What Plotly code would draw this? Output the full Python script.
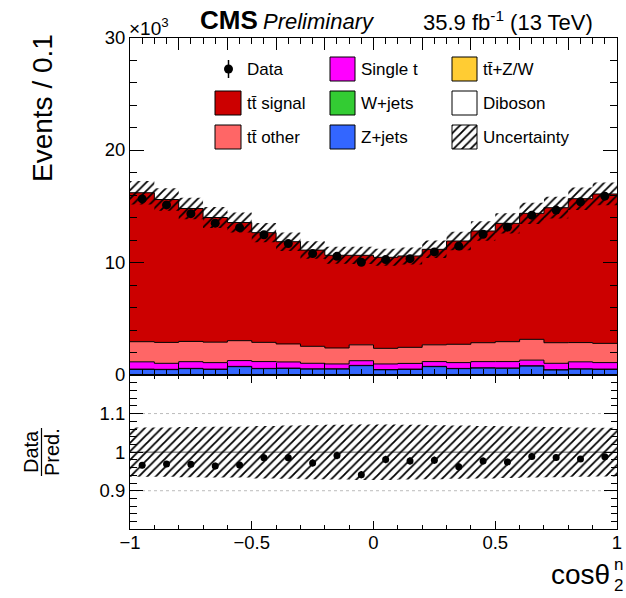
import numpy as np
import plotly.graph_objects as go

# ---------------- binning ----------------
bin_edges = np.linspace(-1.0, 1.0, 21)
bin_centers = 0.5 * (bin_edges[:-1] + bin_edges[1:])

# ---------------- observed events ----------------
data_events = [15650, 15120, 14340, 13500, 13100, 12470, 11680, 10790, 10550, 10020,
               10260, 10340, 10940, 11460, 12510, 13140, 14210, 14660, 15390, 15900]

# ---------------- simulated processes (events / bin) ----------------
diboson = [11, 10, 12, 10, 11, 12, 10, 11, 12, 10, 11, 10, 12, 11, 10, 12, 11, 10, 11, 12]
ttbar_v = [35, 34, 36, 35, 35, 36, 34, 35, 35, 36, 35, 34, 35, 36, 35, 35, 34, 35, 36, 35]
z_jets = [455, 435, 515, 455, 695, 515, 545, 485, 485, 785,
          415, 455, 695, 515, 575, 555, 755, 405, 485, 455]
w_jets = [25, 24, 26, 25, 25, 24, 26, 25, 25, 24, 25, 26, 25, 24, 25, 25, 26, 25, 24, 25]
single_t = [645, 535, 595, 575, 515, 605, 545, 485, 425, 415,
            495, 505, 425, 515, 545, 565, 495, 565, 615, 575]
tt_other = [1790, 1860, 1800, 1820, 1770, 1710, 1600, 1510, 1420, 1410,
            1390, 1430, 1490, 1630, 1680, 1770, 1850, 1830, 1710, 1710]
tt_signal = [13240, 12700, 11820, 11080, 10500, 9750, 9090, 8550, 8240, 7960,
             8090, 8120, 8490, 9180, 9930, 10520, 11200, 12000, 12790, 13280]

# relative uncertainty of the prediction per bin
rel_unc = [0.064, 0.064, 0.065, 0.066, 0.066, 0.068, 0.069, 0.070, 0.071, 0.072,
           0.072, 0.071, 0.070, 0.069, 0.068, 0.067, 0.066, 0.065, 0.064, 0.063]

# ---------------- tick labels ----------------
y_main_ticks = [0, 10000, 20000, 30000]
y_main_text = ["0", "10", "20", "30"]
y_ratio_ticks = [0.9, 1.0, 1.1]
y_ratio_text = ["0.9", "1", "1.1"]
x_ticks = [-1, -0.5, 0, 0.5, 1]
x_text = ["\u22121", "\u22120.5", "0", "0.5", "1"]

# process stack, bottom to top
stack = [
    ("Diboson", diboson, "#ffffff"),
    ("tt\u0304+Z/W", ttbar_v, "#ffcc33"),
    ("Z+jets", z_jets, "#3366ff"),
    ("W+jets", w_jets, "#33cc33"),
    ("Single t", single_t, "#ff00ff"),
    ("tt\u0304 other", tt_other, "#ff6666"),
    ("tt\u0304 signal", tt_signal, "#cc0000"),
]

FONT = "Liberation Sans, Arial, Helvetica, sans-serif"


def step_y(vals):
    vals = list(vals)
    return vals + [vals[-1]]


fig = go.Figure()

# stacked histograms
cum = np.zeros(len(bin_centers))
for i, (name, vals, color) in enumerate(stack):
    cum = cum + np.asarray(vals, dtype=float)
    fig.add_trace(go.Scatter(
        x=bin_edges, y=step_y(cum), mode="lines", name=name,
        line=dict(shape="hv", color="black", width=1),
        fill="tozeroy" if i == 0 else "tonexty", fillcolor=color,
        xaxis="x", yaxis="y", hoverinfo="skip", showlegend=False))

total = cum
unc = np.asarray(rel_unc)
hatch = dict(shape="/", fgcolor="black", bgcolor="rgba(0,0,0,0)",
             size=6, solidity=0.3, fgopacity=1)

# uncertainty band on the prediction
fig.add_trace(go.Scatter(x=bin_edges, y=step_y(total * (1 - unc)), mode="lines",
                         line=dict(shape="hv", width=0), xaxis="x", yaxis="y",
                         hoverinfo="skip", showlegend=False))
fig.add_trace(go.Scatter(x=bin_edges, y=step_y(total * (1 + unc)), mode="lines",
                         line=dict(shape="hv", width=0), fill="tonexty",
                         fillcolor="rgba(0,0,0,0)", fillpattern=hatch,
                         xaxis="x", yaxis="y", hoverinfo="skip", showlegend=False))

# data points
data_arr = np.asarray(data_events, dtype=float)
fig.add_trace(go.Scatter(
    x=bin_centers, y=data_arr, mode="markers",
    marker=dict(color="black", size=9),
    error_y=dict(type="data", array=np.sqrt(data_arr), thickness=1.5, width=0, color="black"),
    xaxis="x", yaxis="y", hoverinfo="skip", showlegend=False))

# ratio panel
fig.add_trace(go.Scatter(x=bin_edges, y=step_y(1 - unc), mode="lines",
                         line=dict(shape="hv", width=0), xaxis="x2", yaxis="y2",
                         hoverinfo="skip", showlegend=False))
fig.add_trace(go.Scatter(x=bin_edges, y=step_y(1 + unc), mode="lines",
                         line=dict(shape="hv", width=0), fill="tonexty",
                         fillcolor="rgba(0,0,0,0)", fillpattern=hatch,
                         xaxis="x2", yaxis="y2", hoverinfo="skip", showlegend=False))
ratio = data_arr / total
fig.add_trace(go.Scatter(
    x=bin_centers, y=ratio, mode="markers",
    marker=dict(color="black", size=7),
    error_y=dict(type="data", array=np.sqrt(data_arr) / total, thickness=1.5, width=0, color="black"),
    xaxis="x2", yaxis="y2", hoverinfo="skip", showlegend=False))

# ---------------- legend drawn on a pixel-unit overlay axis ----------------
def box(x0, y0, x1, y1, color, pattern=None):
    kw = dict(x=[x0, x1, x1, x0, x0], y=[y0, y0, y1, y1, y0], mode="lines",
              fill="toself", fillcolor=color, line=dict(color="black", width=1),
              xaxis="x3", yaxis="y3", hoverinfo="skip", showlegend=False)
    if pattern is not None:
        kw["fillpattern"] = pattern
    fig.add_trace(go.Scatter(**kw))


legend_cols = [(215, 241), (330, 355), (452, 477)]
legend_rows = [69, 103, 137]
legend_entries = [
    [("Data", None), ("tt\u0304 signal", "#cc0000"), ("tt\u0304 other", "#ff6666")],
    [("Single t", "#ff00ff"), ("W+jets", "#33cc33"), ("Z+jets", "#3366ff")],
    [("tt\u0304+Z/W", "#ffcc33"), ("Diboson", "#ffffff"), ("Uncertainty", "hatch")],
]

annotations = []
for (cx0, cx1), col in zip(legend_cols, legend_entries):
    for yc, (label, color) in zip(legend_rows, col):
        if color is None:
            fig.add_trace(go.Scatter(
                x=[0.5 * (cx0 + cx1) + 0.5], y=[yc], mode="markers",
                marker=dict(color="black", size=9),
                error_y=dict(type="constant", value=9, thickness=1.5, width=0, color="black"),
                xaxis="x3", yaxis="y3", hoverinfo="skip", showlegend=False))
        elif color == "hatch":
            box(cx0, yc - 12, cx1, yc + 12, "rgba(0,0,0,0)",
                dict(shape="/", fgcolor="black", bgcolor="white", size=6, solidity=0.3, fgopacity=1))
        else:
            box(cx0, yc - 12, cx1, yc + 12, color)
        annotations.append(dict(x=cx1 + 4, y=yc, text=label, xref="x3", yref="y3",
                                xanchor="left", yanchor="middle", showarrow=False,
                                font=dict(size=17)))

# header texts and axis titles
annotations += [
    dict(x=198, y=20, text="<b>CMS</b>", xanchor="left", yanchor="middle", font=dict(size=26)),
    dict(x=261, y=21, text="<i>Preliminary</i>", xanchor="left", yanchor="middle", font=dict(size=22)),
    dict(x=595, y=21, text="35.9 fb<sup>-1</sup> (13 TeV)", xanchor="right", yanchor="middle",
         font=dict(size=22)),
    dict(x=127, y=27, text="\u00d710<sup>3</sup>", xanchor="left", yanchor="middle", font=dict(size=19)),
    dict(x=42, y=108, text="Events / 0.1", textangle=-90, xanchor="center", yanchor="middle",
         font=dict(size=28)),
    dict(x=31, y=452, text="Data", textangle=-90, xanchor="center", yanchor="middle",
         font=dict(size=20)),
    dict(x=52, y=452, text="Pred.", textangle=-90, xanchor="center", yanchor="middle",
         font=dict(size=20)),
    dict(x=612, y=574, text="cos\u03b8", xanchor="right", yanchor="middle", font=dict(size=28)),
    dict(x=612, y=564, text="n", xanchor="left", yanchor="middle", font=dict(size=17)),
    dict(x=612, y=585, text="2", xanchor="left", yanchor="middle", font=dict(size=17)),
]
for a in annotations:
    a.setdefault("xref", "x3")
    a.setdefault("yref", "y3")
    a.setdefault("showarrow", False)

shapes = [
    # fraction bar of the ratio title
    dict(type="line", xref="x3", yref="y3", x0=41.5, x1=41.5, y0=428, y1=476,
         line=dict(color="black", width=1.2)),
    dict(type="line", xref="x2 domain", yref="y2", x0=0, x1=1, y0=1.1, y1=1.1,
         line=dict(color="#bbbbbb", width=1, dash="dot"), layer="below"),
    dict(type="line", xref="x2 domain", yref="y2", x0=0, x1=1, y0=0.9, y1=0.9,
         line=dict(color="#bbbbbb", width=1, dash="dot"), layer="below"),
    dict(type="line", xref="x2 domain", yref="y2", x0=0, x1=1, y0=1.0, y1=1.0,
         line=dict(color="#555555", width=1), layer="below"),
]

W, H = 626, 598
x_dom = [130 / W, 617 / W]
y_main_dom = [1 - 375 / H, 1 - 37.5 / H]
y_ratio_dom = [1 - 529.3 / H, 1 - 375 / H]

axis_common = dict(showline=True, linecolor="black", linewidth=1, mirror="ticks",
                   ticks="inside", tickcolor="black", tickwidth=1, showgrid=False,
                   zeroline=False, fixedrange=True, automargin=False,
                   tickfont=dict(size=18.5))

fig.update_layout(
    width=W, height=H, margin=dict(l=0, r=0, t=0, b=0, pad=0, autoexpand=False),
    paper_bgcolor="white", plot_bgcolor="rgba(0,0,0,0)",
    font=dict(family=FONT, color="black", size=18),
    showlegend=False,
    xaxis=dict(domain=x_dom, range=[-1, 1], anchor="y", showticklabels=False,
               tickmode="linear", tick0=-1, dtick=0.2, ticklen=12,
               minor=dict(tick0=-1, dtick=0.05, ticklen=6, ticks="inside", tickcolor="black"),
               **axis_common),
    yaxis=dict(domain=y_main_dom, range=[0, 30000], anchor="x",
               tickmode="array", tickvals=y_main_ticks, ticktext=y_main_text, ticklen=14,
               minor=dict(tick0=0, dtick=2000, ticklen=7, ticks="inside", tickcolor="black"),
               **axis_common),
    xaxis2=dict(domain=x_dom, range=[-1, 1], anchor="y2",
                tickmode="array", tickvals=x_ticks, ticktext=x_text, ticklen=8,
                ticklabelstandoff=-4,
                minor=dict(tick0=-1, dtick=0.1, ticklen=4, ticks="inside", tickcolor="black"),
                **axis_common),
    yaxis2=dict(domain=y_ratio_dom, range=[0.8, 1.2], anchor="x2",
                tickmode="array", tickvals=y_ratio_ticks, ticktext=y_ratio_text, ticklen=13,
                minor=dict(tick0=0.8, dtick=0.02, ticklen=6.5, ticks="inside", tickcolor="black"),
                **axis_common),
    xaxis3=dict(domain=[0, 1], range=[0, W], anchor="y3", visible=False,
                fixedrange=True, automargin=False),
    yaxis3=dict(domain=[0, 1], range=[H, 0], anchor="x3", visible=False,
                fixedrange=True, automargin=False),
    annotations=annotations,
    shapes=shapes,
)

fig.write_html("out.html")
